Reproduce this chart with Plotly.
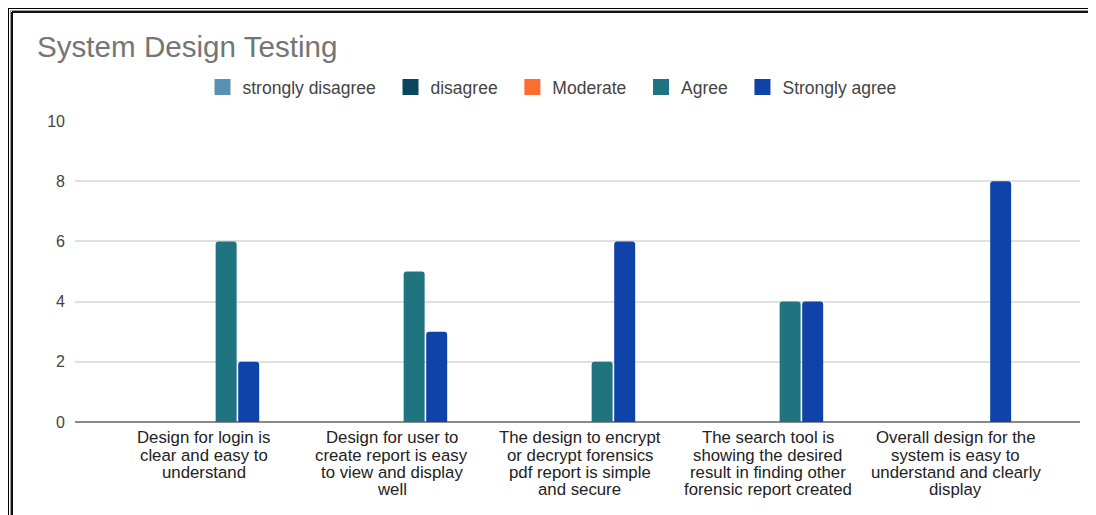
import plotly.graph_objects as go

categories = [
    "Design for login is<br>clear and easy to<br>understand",
    "Design for user to<br>create report is easy<br>to view and display<br>well",
    "The design to encrypt<br>or decrypt forensics<br>pdf report is simple<br>and secure",
    "The search tool is<br>showing the desired<br>result in finding other<br>forensic report created",
    "Overall design for the<br>system is easy to<br>understand and clearly<br>display",
]
series_names = ["strongly disagree", "disagree", "Moderate", "Agree", "Strongly agree"]
strongly_disagree = [0, 0, 0, 0, 0]
disagree = [0, 0, 0, 0, 0]
moderate = [0, 0, 0, 0, 0]
agree = [6, 5, 2, 4, 0]
strongly_agree = [2, 3, 6, 4, 8]
y_ticks = [0, 2, 4, 6, 8, 10]

colors = ["#5891B3", "#08475F", "#FF6D2E", "#1F7480", "#1043AA"]
values = [strongly_disagree, disagree, moderate, agree, strongly_agree]

OFF = 8  # page body margin
W, H = 1096 - OFF, 515 - OFF
# plot area in screen pixels: x 75..1080, y 121..422
ML, MR, MT, MB = 75 - OFF, W - (1080 - OFF), 121 - OFF, H - (422 - OFF)
PW, PH = W - ML - MR, H - MT - MB

def px_x(p):  # figure pixel -> paper
    return (p - ML) / PW

def px_y(p):
    return (H - MB - p) / PH

fig = go.Figure()
x_idx = list(range(len(categories)))
for name, vals, c in zip(series_names, values, colors):
    fig.add_trace(go.Bar(
        x=x_idx, y=vals, name=name, showlegend=False,
        marker=dict(color=c, line=dict(width=0), cornerradius=3),
    ))
# legend swatches (square markers, larger than the default bar legend icon)
for name, c in zip(series_names, colors):
    fig.add_trace(go.Scatter(
        x=[None], y=[None], mode="markers", name=name + "\u00a0\u00a0",
        marker=dict(symbol="square", size=17, color=c),
    ))

shapes = []
for (pos, col, w) in [(0, "#000000", 2), (2.5, "#9a9a9a", 1), (4, "#111111", 2)]:
    shapes.append(dict(type="line", xref="paper", yref="paper",
                       x0=px_x(pos), x1=px_x(pos), y0=px_y(pos), y1=px_y(H + 5),
                       line=dict(color=col, width=w)))
    shapes.append(dict(type="line", xref="paper", yref="paper",
                       x0=px_x(pos), x1=px_x(W + 5), y0=px_y(pos), y1=px_y(pos),
                       line=dict(color=col, width=w)))

annotations = []
for i, label in enumerate(categories):
    for j, line in enumerate(label.split("<br>")):
        annotations.append(dict(
            x=i, xref="x", y=px_y(438 - OFF + 17 * j), yref="paper",
            text=line, showarrow=False, xanchor="center", yanchor="middle",
            borderpad=0, height=17,
            font=dict(size=16.8, color="#222222"),
        ))

fig.update_layout(
    width=W, height=H,
    margin=dict(l=ML, r=MR, t=MT, b=MB, pad=0),
    paper_bgcolor="white", plot_bgcolor="white",
    font=dict(family="Arial, Liberation Sans, sans-serif", color="#444444"),
    title=dict(text="System Design Testing", xref="container", yref="container",
               x=(37 - OFF) / W, xanchor="left", y=1 - (47 - OFF) / H, yanchor="middle",
               font=dict(size=29.6, color="#757575")),
    barmode="group", bargap=0.4, bargroupgap=0.07,
    legend=dict(orientation="h", x=px_x(557 - OFF), xanchor="center", y=px_y(87 - OFF),
                yanchor="middle", font=dict(size=17.5, color="#444444"),
                itemclick=False, itemdoubleclick=False, traceorder="normal"),
    xaxis=dict(range=[-0.684, 4.662], tickmode="array", tickvals=x_idx,
               ticktext=["" for _ in categories],
               showgrid=False, zeroline=False, showline=False, ticks="",
               fixedrange=True),
    yaxis=dict(range=[0, 10], tickmode="array", tickvals=y_ticks,
               ticktext=[str(v) for v in y_ticks],
               showgrid=True, gridcolor="#e0e0e0", gridwidth=1.5,
               zeroline=True, zerolinecolor="#8a8a8a", zerolinewidth=2,
               tickfont=dict(size=16, color="#444444"), ticklabelstandoff=9,
               showline=False, fixedrange=True),
    shapes=shapes,
    annotations=annotations,
)

fig.write_html("out.html")
